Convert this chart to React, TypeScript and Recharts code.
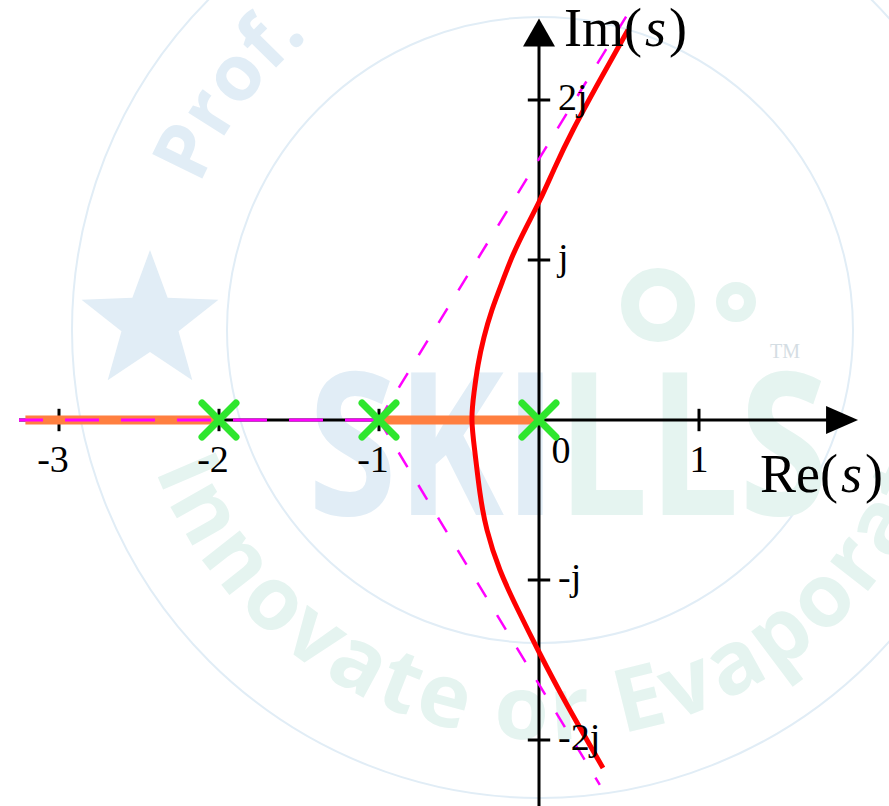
import React from "react";
import {
  ComposedChart,
  Line,
  Scatter,
  XAxis,
  YAxis,
  ReferenceLine,
  ReferenceDot,
} from "recharts";

// Open-loop poles on the real axis
const poles = [-2, -1, 0];

// Tick marks and their labels
const reTicks = [-3, -2, -1, 0, 1];
const reTickLabels = ["-3", "-2", "-1", "0", "1"];
const imTicks = [2, 1, -1, -2];
const imTickLabels = ["2j", "j", "-j", "-2j"];

// Complex branches of the locus, top to bottom through the breakaway point
const locusRe = [
  0.556, 0.381, 0.2125, 0.1, 0.006, -0.081, -0.163, -0.231, -0.294, -0.344,
  -0.381, -0.406, -0.419, -0.4, -0.369, -0.325, -0.244, -0.131, 0.0, 0.175,
  0.4,
];
const locusIm = [
  2.438, 2.125, 1.8125, 1.58, 1.375, 1.203, 1.031, 0.859, 0.6875, 0.516,
  0.344, 0.172, 0, -0.206, -0.456, -0.6875, -0.9375, -1.1875, -1.45, -1.78,
  -2.175,
];

// Real-axis parts of the locus
const realSegmentStart = [-3.21, -1];
const realSegmentEnd = [-2, 0];

// Asymptotes leave the centroid
const centroid = -1;
const asymEndRe = [0.55, 0.38, -3.25];
const asymEndIm = [2.53, -2.28, 0];

const X_DOMAIN: [number, number] = [-3.36875, 2.1875];
const Y_DOMAIN: [number, number] = [-2.4125, 2.625];

const W = 889;
const H = 806;
const SERIF = "Liberation Serif, Times New Roman, serif";

const locus = locusRe.map((re, i) => ({ re, im: locusIm[i] }));
const realSegments = realSegmentStart.map((s, i) => [
  { re: s, im: 0 },
  { re: realSegmentEnd[i], im: 0 },
]);
const asymptotes = asymEndRe.map((re, i) => [
  { re: centroid, im: 0 },
  { re, im: asymEndIm[i] },
]);
const poleData = poles.map((re) => ({ re, im: 0 }));

const TICK = 0.07;

function PoleMark(props: any) {
  const { cx, cy } = props;
  const d = 17;
  return (
    <g stroke="#2ee62e" strokeWidth={7} strokeLinecap="round">
      <line x1={cx - d} y1={cy - d} x2={cx + d} y2={cy + d} />
      <line x1={cx - d} y1={cy + d} x2={cx + d} y2={cy - d} />
    </g>
  );
}

function Watermark() {
  const blue = "#e1edf6";
  const mint = "#e5f4f0";
  const star = Array.from({ length: 10 }, (_, i) => {
    const a = -Math.PI / 2 + (i * Math.PI) / 5;
    const r = i % 2 === 0 ? 72 : 30;
    return `${150 + r * Math.cos(a)},${322 + r * Math.sin(a)}`;
  }).join(" ");
  return (
    <svg
      width={W}
      height={H}
      style={{ position: "absolute", left: 0, top: 0 }}
    >
      <defs>
        <path id="wm-bottom" d="M 155 470 A 420 420 0 0 0 955 420" />
        <path id="wm-top" d="M 200 185 A 380 380 0 0 1 506 -48" />
      </defs>
      <circle cx={540} cy={330} r={468} fill="none" stroke={blue} strokeWidth={2} />
      <circle cx={540} cy={330} r={313} fill="none" stroke={blue} strokeWidth={2} />
      <polygon points={star} fill={blue} />
      <text
        x={308}
        y={515}
        fontFamily="Open Sans, sans-serif"
        fontWeight={700}
        fontSize={200}
        textLength={520}
        lengthAdjust="spacingAndGlyphs"
      >
        <tspan fill={blue}>SKI</tspan>
        <tspan fill={mint}>LLS</tspan>
      </text>
      <text x={770} y={358} fontFamily="Liberation Serif, serif" fontSize={20} fill="#d4dde3">
        TM
      </text>
      <circle cx={658} cy={305} r={28} fill="none" stroke={mint} strokeWidth={18} />
      <circle cx={736} cy={302} r={14} fill="none" stroke={mint} strokeWidth={12} />
      <text
        fontFamily="Open Sans, sans-serif"
        fontWeight={700}
        fontSize={88}
        letterSpacing={4}
        fill={mint}
      >
        <textPath href="#wm-bottom">Innovate or Evaporate</textPath>
      </text>
      <text fontFamily="Open Sans, sans-serif" fontWeight={700} fontSize={78} fill={blue}>
        <textPath href="#wm-top">Prof.</textPath>
      </text>
    </svg>
  );
}

export default function App() {
  return (
    <div
      style={{
        position: "absolute",
        left: 0,
        top: 0,
        width: W,
        height: H,
        background: "#fff",
      }}
    >
      <Watermark />
      <div style={{ position: "absolute", left: 0, top: 0 }}>
        <ComposedChart
          width={W}
          height={H}
          margin={{ top: 0, right: 0, bottom: 0, left: 0 }}
        >
          <XAxis
            type="number"
            dataKey="re"
            domain={X_DOMAIN}
            allowDataOverflow
            hide
          />
          <YAxis
            type="number"
            dataKey="im"
            domain={Y_DOMAIN}
            allowDataOverflow
            hide
          />

          {/* axes */}
          <ReferenceLine
            segment={[
              { x: -3.25, y: 0 },
              { x: 1.85, y: 0 },
            ]}
            stroke="#000"
            strokeWidth={3}
            ifOverflow="visible"
          />
          <ReferenceLine
            segment={[
              { x: 0, y: Y_DOMAIN[0] },
              { x: 0, y: 2.36 },
            ]}
            stroke="#000"
            strokeWidth={3}
            ifOverflow="visible"
          />
          {reTicks
            .filter((t) => t !== 0)
            .map((t) => (
              <ReferenceLine
                key={`rt${t}`}
                segment={[
                  { x: t, y: -TICK },
                  { x: t, y: TICK },
                ]}
                stroke="#000"
                strokeWidth={3}
              />
            ))}
          {imTicks.map((t) => (
            <ReferenceLine
              key={`it${t}`}
              segment={[
                { x: -TICK, y: t },
                { x: TICK, y: t },
              ]}
              stroke="#000"
              strokeWidth={3}
            />
          ))}
          <ReferenceDot
            x={1.994}
            y={0}
            r={0}
            shape={(p: any) => (
              <polygon
                points={`${p.cx},${p.cy} ${p.cx - 32},${p.cy - 14} ${p.cx - 32},${p.cy + 14}`}
                fill="#000"
              />
            )}
          />
          <ReferenceDot
            x={0}
            y={2.51}
            r={0}
            shape={(p: any) => (
              <polygon
                points={`${p.cx},${p.cy} ${p.cx - 16},${p.cy + 28} ${p.cx + 16},${p.cy + 28}`}
                fill="#000"
              />
            )}
          />

          {/* tick labels */}
          {reTicks.map((t, i) => (
            <ReferenceDot
              key={`rl${t}`}
              x={t}
              y={0}
              r={0}
              shape={(p: any) => (
                <text
                  x={p.cx + (t === 0 ? 22 : t < 0 ? -6 : 0)}
                  y={p.cy + (t === 0 ? 43 : 52)}
                  textAnchor="middle"
                  fontFamily={SERIF}
                  fontSize={38}
                  fill="#000"
                >
                  {reTickLabels[i]}
                </text>
              )}
            />
          ))}
          {imTicks.map((t, i) => (
            <ReferenceDot
              key={`il${t}`}
              x={0}
              y={t}
              r={0}
              shape={(p: any) => (
                <text
                  x={p.cx + 19}
                  y={p.cy + 10}
                  textAnchor="start"
                  fontFamily={SERIF}
                  fontSize={38}
                  fill="#000"
                >
                  {imTickLabels[i]}
                </text>
              )}
            />
          ))}

          {/* axis titles */}
          <ReferenceDot
            x={0}
            y={2.51}
            r={0}
            shape={(p: any) => (
              <text x={p.cx + 25} y={p.cy + 28} fontFamily={SERIF} fontSize={54} fill="#000">
                Im(
                <tspan dx={3} fontStyle="italic">s</tspan>
                <tspan dx={3}>)</tspan>
              </text>
            )}
          />
          <ReferenceDot
            x={1.994}
            y={0}
            r={0}
            shape={(p: any) => (
              <text x={p.cx - 98} y={p.cy + 72} fontFamily={SERIF} fontSize={54} fill="#000">
                Re(
                <tspan dx={3} fontStyle="italic">s</tspan>
                <tspan dx={3}>)</tspan>
              </text>
            )}
          />

          {/* real-axis locus */}
          {realSegments.map((seg, i) => (
            <Line
              key={`seg${i}`}
              data={seg}
              dataKey="im"
              type="linear"
              stroke="#ff7f40"
              strokeWidth={9}
              dot={false}
              activeDot={false}
              isAnimationActive={false}
            />
          ))}

          {/* asymptotes */}
          {asymptotes.map((seg, i) => (
            <Line
              key={`asym${i}`}
              data={seg}
              dataKey="im"
              type="linear"
              stroke="#ff00ff"
              strokeWidth={i === 2 ? 3 : 2.5}
              strokeDasharray={i === 2 ? "34 22" : "17 21"}
              dot={false}
              activeDot={false}
              isAnimationActive={false}
            />
          ))}

          {/* complex branches */}
          <Line
            data={locus}
            dataKey="im"
            type="natural"
            stroke="#ff0000"
            strokeWidth={5}
            dot={false}
            activeDot={false}
            isAnimationActive={false}
          />

          <Scatter data={poleData} shape={PoleMark} isAnimationActive={false} />
        </ComposedChart>
      </div>
    </div>
  );
}
